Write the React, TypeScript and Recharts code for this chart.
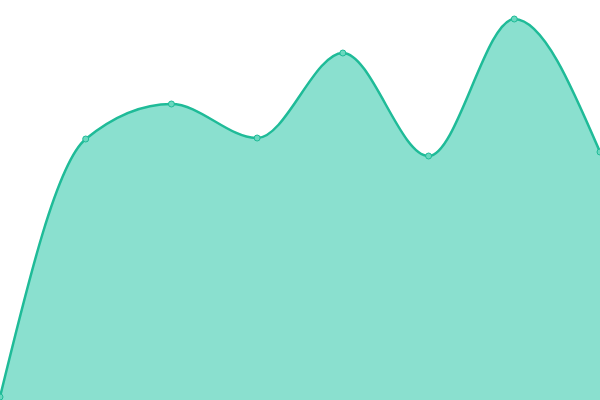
import { AreaChart, Area, XAxis, YAxis } from 'recharts';

const categories = ['A', 'B', 'C', 'D', 'E', 'F', 'G', 'H'];
const values = [3, 261, 296, 262, 347, 244, 381, 248];

const data = categories.map((name, i) => ({ name, value: values[i] }));

export default function App() {
  return (
    <div style={{ width: 600, height: 400 }}>
      <style>{'body { margin: 0; }'}</style>
      <AreaChart width={600} height={400} data={data} margin={{ top: 0, right: 0, bottom: 0, left: 0 }}>
        <XAxis dataKey="name" hide />
        <YAxis hide domain={[0, 400]} />
        <Area
          type="monotone"
          dataKey="value"
          stroke="#1fbb98"
          strokeWidth={2.5}
          fill="#8ae0cf"
          fillOpacity={1}
          dot={{ r: 3, fill: '#6ad8bf', stroke: '#1fbb98', strokeWidth: 1 }}
          activeDot={false}
          isAnimationActive={false}
        />
      </AreaChart>
    </div>
  );
}
